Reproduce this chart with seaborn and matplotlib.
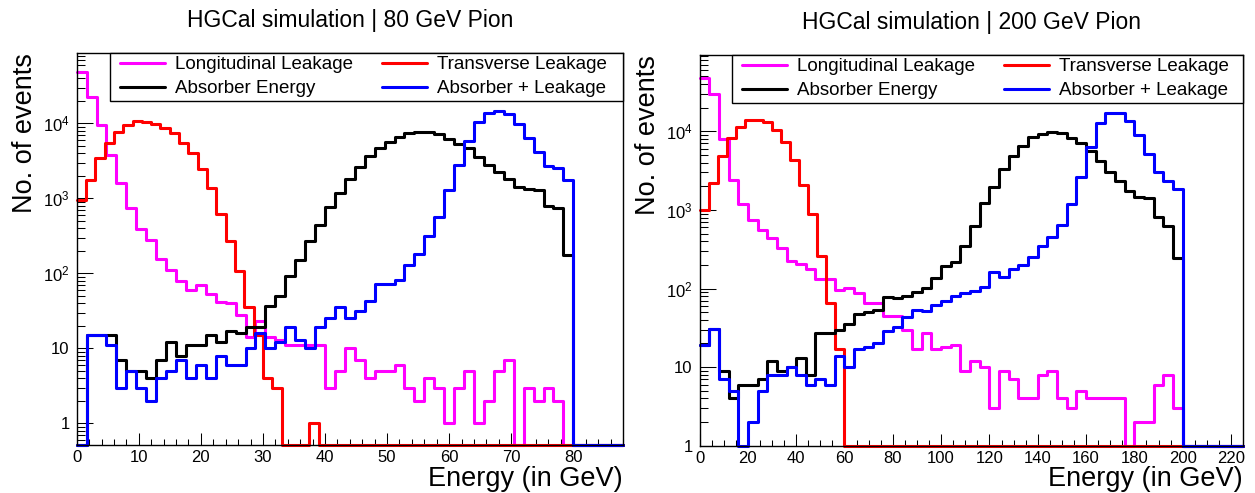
import numpy as np
import matplotlib
matplotlib.use("Agg")
import matplotlib.pyplot as plt
import seaborn as sns
from matplotlib.lines import Line2D
from matplotlib.patches import Rectangle
from matplotlib.ticker import FuncFormatter, LogLocator, MultipleLocator, NullFormatter

# ---------------- 80 GeV pion ----------------
# longitudinal leakage, absorber energy, absorber + leakage: 50 bins of 1.6 GeV (0-80 GeV)
long_80 = [48000, 22700, 9500, 3800, 1590, 735, 385, 282, 156, 112,
           78, 59, 69, 53, 41, 40, 28, 14, 23, 14,
           13, 11, 11, 11, 11, 3, 5, 10, 7, 4,
           5, 5, 6, 3, 2, 4, 3, 1, 3, 5,
           1, 2, 5, 7, 0, 3, 2, 3, 2, 0]
absorber_80 = [0, 15, 15, 15, 7, 5, 5, 4, 7, 12,
               8, 11, 11, 15, 12, 17, 16, 19, 19, 37,
               50, 91, 152, 268, 437, 776, 1190, 1820, 2650, 3690,
               4630, 5680, 6620, 7340, 7580, 7580, 7100, 6170, 5290, 4630,
               3610, 2790, 2210, 1800, 1430, 1350, 1280, 789, 750, 174]
total_80 = [0, 15, 15, 11, 3, 5, 3, 2, 4, 5,
            7, 4, 6, 4, 8, 6, 6, 10, 16, 10,
            12, 19, 13, 10, 19, 25, 36, 25, 31, 43,
            73, 73, 82, 128, 183, 313, 568, 1280, 2790, 5860,
            10300, 13600, 14500, 13300, 9800, 6300, 4170, 2710, 2500, 1760]
# transverse leakage: bins of 1.5 GeV starting at 0
trans_80 = [950, 1780, 3500, 5500, 7580, 9560, 10600, 10500, 9800, 8570,
            7340, 5500, 4080, 2470, 1390, 623, 268, 106, 36, 15,
            4, 3, 0, 0, 0, 1]

# ---------------- 200 GeV pion ----------------
# longitudinal leakage, absorber energy, absorber + leakage: 50 bins of 4 GeV (0-200 GeV)
long_200 = [47800, 29700, 7900, 2400, 1190, 740, 555, 440, 330, 225,
            205, 175, 134, 134, 97, 102, 87, 66, 66, 45,
            45, 30, 17, 27, 17, 18, 19, 9, 12, 10,
            3, 9, 7, 4, 4, 8, 9, 4, 3, 5,
            4, 4, 4, 4, 0, 2, 2, 6, 8, 3]
absorber_200 = [19, 31, 9, 4, 6, 6, 7, 12, 9, 10,
                13, 8, 27, 27, 30, 35, 48, 50, 54, 78,
                75, 80, 90, 102, 137, 196, 216, 352, 632, 1216,
                1980, 3315, 4900, 6580, 8390, 9250, 9900, 9400, 8230, 7030,
                5570, 4240, 3070, 2310, 1760, 1450, 1420, 807, 632, 245]
total_200 = [19, 31, 7, 5, 0, 2, 5, 8, 8, 10,
             8, 6, 7, 6, 14, 10, 17, 18, 20, 29,
             32, 43, 54, 52, 61, 69, 81, 87, 93, 106,
             161, 139, 178, 202, 250, 345, 458, 651, 1190, 2650,
             6390, 12600, 16900, 16900, 13700, 8980, 5150, 3010, 2310, 1850]
# transverse leakage: bins of 3.75 GeV starting at 0
trans_200 = [1000, 2200, 4900, 8230, 11500, 14100, 14100, 13000, 10400, 7250,
             4320, 2080, 890, 262, 66, 17]

series_names = ["Longitudinal Leakage", "Transverse Leakage",
                "Absorber Energy", "Absorber + Leakage"]
series_colors = ["#ff00ff", "#ff0000", "#000000", "#0000ff"]
titles = ["HGCal simulation | 80 GeV Pion", "HGCal simulation | 200 GeV Pion"]

sns.set_style("white")
plt.rcParams["font.family"] = ["Liberation Sans", "DejaVu Sans"]
plt.rcParams["mathtext.fontset"] = "custom"
plt.rcParams["mathtext.rm"] = "Liberation Sans"
plt.rcParams["mathtext.it"] = "Liberation Sans:italic"
for key in ["text.color", "axes.labelcolor", "xtick.color", "ytick.color"]:
    plt.rcParams[key] = "black"

LW = 2.2


def draw_hist(ax, values, width, color, xmax, ymin):
    n = int(np.ceil(xmax / width - 1e-9))
    edges = np.arange(n + 1) * width
    edges[-1] = min(edges[-1], xmax)
    counts = np.zeros(n)
    v = np.asarray(values, float)[:n]
    counts[:len(v)] = v
    # empty bins are drawn along the lower frame edge
    heights = np.clip(counts, ymin, None)
    centers = 0.5 * (edges[:-1] + edges[1:])
    sns.histplot(x=centers, weights=heights, bins=edges.tolist(), element="step",
                 fill=False, color=color, linewidth=LW, ax=ax, clip_on=False)


def log_label(v, pos):
    if np.isclose(v, 1):
        return "1"
    if np.isclose(v, 10):
        return "10"
    e = int(round(np.log10(v)))
    return r"$\mathdefault{10^{%d}}$" % e


fig = plt.figure(figsize=(12.55, 4.93), dpi=100)
ax_l = fig.add_axes([0.0611, 0.0974, 0.4353, 0.795])
ax_r = fig.add_axes([0.5574, 0.0959, 0.4331, 0.7925])

panels = [
    dict(ax=ax_l, data=[(long_80, 1.6), (trans_80, 1.5), (absorber_80, 1.6), (total_80, 1.6)],
         xmax=88, ylim=(0.514, 86500), major=10, minor=2, leg_x0=0.061, leg_hx=0.0793),
    dict(ax=ax_r, data=[(long_200, 4.0), (trans_200, 3.75), (absorber_200, 4.0), (total_200, 4.0)],
         xmax=225, ylim=(1.0, 93500), major=20, minor=5, leg_x0=0.0598, leg_hx=0.0776),
]

for p, title in zip(panels, titles):
    ax = p["ax"]
    ymin, ymax = p["ylim"]
    for (vals, w), col in zip(p["data"], series_colors):
        draw_hist(ax, vals, w, col, p["xmax"], ymin)
    ax.set_yscale("log")
    ax.set_xlim(0, p["xmax"])
    ax.set_ylim(ymin, ymax)

    ax.xaxis.set_major_locator(MultipleLocator(p["major"]))
    ax.xaxis.set_minor_locator(MultipleLocator(p["minor"]))
    ax.yaxis.set_major_locator(LogLocator(base=10))
    ax.yaxis.set_minor_locator(LogLocator(base=10, subs=np.arange(2, 10)))
    ax.yaxis.set_major_formatter(FuncFormatter(log_label))
    ax.yaxis.set_minor_formatter(NullFormatter())

    ax.tick_params(axis="both", which="both", direction="in", top=False, right=False,
                   bottom=True, left=True, width=0.75, color="black",
                   labelcolor="black", labelsize=12)
    ax.tick_params(axis="x", which="major", length=8.6, pad=3.6)
    ax.tick_params(axis="x", which="minor", length=4)
    ax.tick_params(axis="y", which="major", length=11.5, pad=5)
    ax.tick_params(axis="y", which="minor", length=6)
    for s in ax.spines.values():
        s.set_visible(True)
        s.set_linewidth(1.0)
        s.set_color("black")

    ax.set_xlabel("Energy (in GeV)", fontsize=19.5, loc="right", color="black")
    ax.xaxis.set_label_coords(1.0, -0.053)
    ax.set_ylabel("No. of events", fontsize=19.5, loc="top", color="black")
    ax.yaxis.set_label_coords(-0.070, 1.0)

    ax.text(0.5, 1.084, title, transform=ax.transAxes, ha="center", va="center",
            fontsize=16.5, color="black")

    # legend box
    ax.add_patch(Rectangle((p["leg_x0"], 0.8776), 1.0 - p["leg_x0"], 0.1224,
                           transform=ax.transAxes, facecolor="white", edgecolor="black",
                           linewidth=1.0, zorder=5, clip_on=False))
    handles = [Line2D([], [], color=c, linewidth=LW) for c in series_colors]
    order = [0, 2, 1, 3]
    leg = ax.legend([handles[i] for i in order], [series_names[i] for i in order],
                    ncol=2, loc="upper left", bbox_to_anchor=(p["leg_hx"], 0.992),
                    frameon=False, fontsize=13.5, borderpad=0, borderaxespad=0,
                    handlelength=2.4, handletextpad=0.53, columnspacing=1.55,
                    labelspacing=0.36, labelcolor="black")
    leg.set_zorder(6)

fig.savefig("out.png", dpi=100, facecolor="white")
